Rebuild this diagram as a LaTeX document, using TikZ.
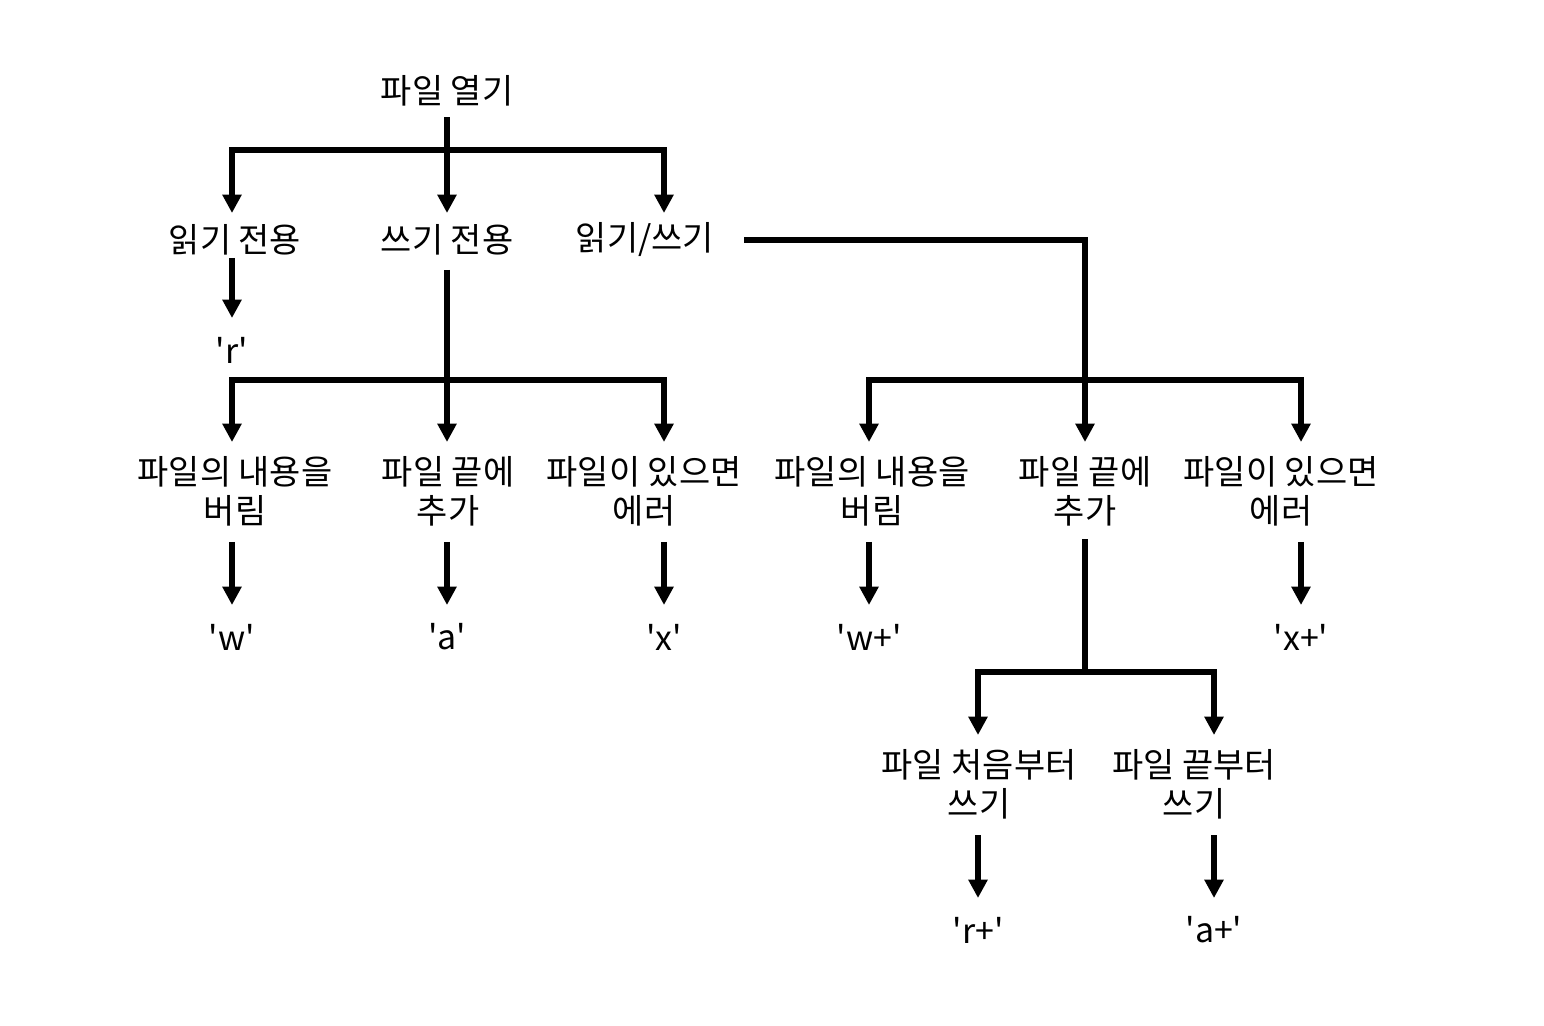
\documentclass[tikz,border=0pt]{standalone}
\usepackage{fontspec}
\newfontfamily\krfont{Noto Sans CJK KR}
\usetikzlibrary{arrows.meta}
\newcommand{\fmode}[1]{\textquotesingle#1\textquotesingle}

\begin{document}
\begin{tikzpicture}[x=0.02cm, y=-0.02cm,
  lbl/.style={font=\krfont\fontsize{19.3}{22.2}\selectfont, align=center, inner sep=0pt},
  wire/.style={line width=2.9pt, line cap=rect},
  arr/.style={line width=2.9pt, -{Triangle[length=10.5pt,width=10.5pt]}}]
  \useasboundingbox (0,0) rectangle (1544,1026);

  % level 0 and 1
  \node[lbl] (open) at (447,91)  {파일 열기};
  \node[lbl] (ro)   at (235,240) {읽기 전용};
  \node[lbl] (wo)   at (447,240) {쓰기 전용};
  \node[lbl] (rw)   at (645,240) {읽기/쓰기};
  % level 2
  \node[lbl] (tr1) at (235,491)  {파일의 내용을\\버림};
  \node[lbl] (ab1) at (448,491)  {파일 끝에\\추가};
  \node[lbl] (er1) at (644,491)  {파일이 있으면\\에러};
  \node[lbl] (tr2) at (872,491)  {파일의 내용을\\버림};
  \node[lbl] (ab2) at (1085,491) {파일 끝에\\추가};
  \node[lbl] (er2) at (1281,491) {파일이 있으면\\에러};
  % level 3
  \node[lbl] (bg) at (979,784)  {파일 처음부터\\쓰기};
  \node[lbl] (ed) at (1194,784) {파일 끝부터\\쓰기};
  % mode strings
  \foreach \m/\x/\y/\t in {r/232/350/r, w/232/637/w, a/447/637/a, x/664/637/x,
      wp/869/637/w+, xp/1301/637/x+, rp/978/930/r+, ap/1214/930/a+}{
    \node[lbl] (\m) at (\x,\y) {\fmode{\t}};
    \coordinate (\m-in) at (\x,\y-32);
  }

  % where the lines meet the labels
  \coordinate (open-out) at (447,120);
  \coordinate (ro-in)  at (232,213);
  \coordinate (wo-in)  at (447,213);
  \coordinate (rw-in)  at (664,213);
  \coordinate (ro-out) at (232,258);
  \coordinate (wo-out) at (447,270);
  \coordinate (rw-out) at (744,240);
  \foreach \n/\x in {tr1/232, ab1/447, er1/664, tr2/869, ab2/1085, er2/1301}{
    \coordinate (\n-in)  at (\x,442);
    \coordinate (\n-out) at (\x,542);
  }
  \coordinate (bg-in)  at (978,735);
  \coordinate (ed-in)  at (1214,735);
  \coordinate (bg-out) at (978,835);
  \coordinate (ed-out) at (1214,835);
  \coordinate (bar0) at (447,150);
  \coordinate (bar1) at (447,380);
  \coordinate (bar2) at (1085,380);
  \coordinate (bar3) at (1085,672);

  % open -> three modes
  \draw[wire] (open-out) -- (bar0);
  \draw[wire] (ro-in |- bar0) -- (rw-in |- bar0);
  \foreach \n in {ro,wo,rw} \draw[arr] (\n-in |- bar0) -- (\n-in);
  \draw[arr] (ro-out) -- (r-in);

  % write only
  \draw[arr] (wo-out) -- (ab1-in);
  \draw[wire] (tr1-in |- bar1) -- (er1-in |- bar1);
  \foreach \n in {tr1,er1} \draw[arr] (\n-in |- bar1) -- (\n-in);

  % read/write
  \draw[arr] (rw-out) -| (ab2-in);
  \draw[wire] (tr2-in |- bar2) -- (er2-in |- bar2);
  \foreach \n in {tr2,er2} \draw[arr] (\n-in |- bar2) -- (\n-in);

  % append: from start or from end
  \draw[wire] (ab2-out) -- (bar3);
  \draw[wire] (bg-in |- bar3) -- (ed-in |- bar3);
  \foreach \n in {bg,ed} \draw[arr] (\n-in |- bar3) -- (\n-in);

  \foreach \n/\m in {tr1/w, ab1/a, er1/x, tr2/wp, er2/xp, bg/rp, ed/ap}
    \draw[arr] (\n-out) -- (\m-in);
\end{tikzpicture}
\end{document}
